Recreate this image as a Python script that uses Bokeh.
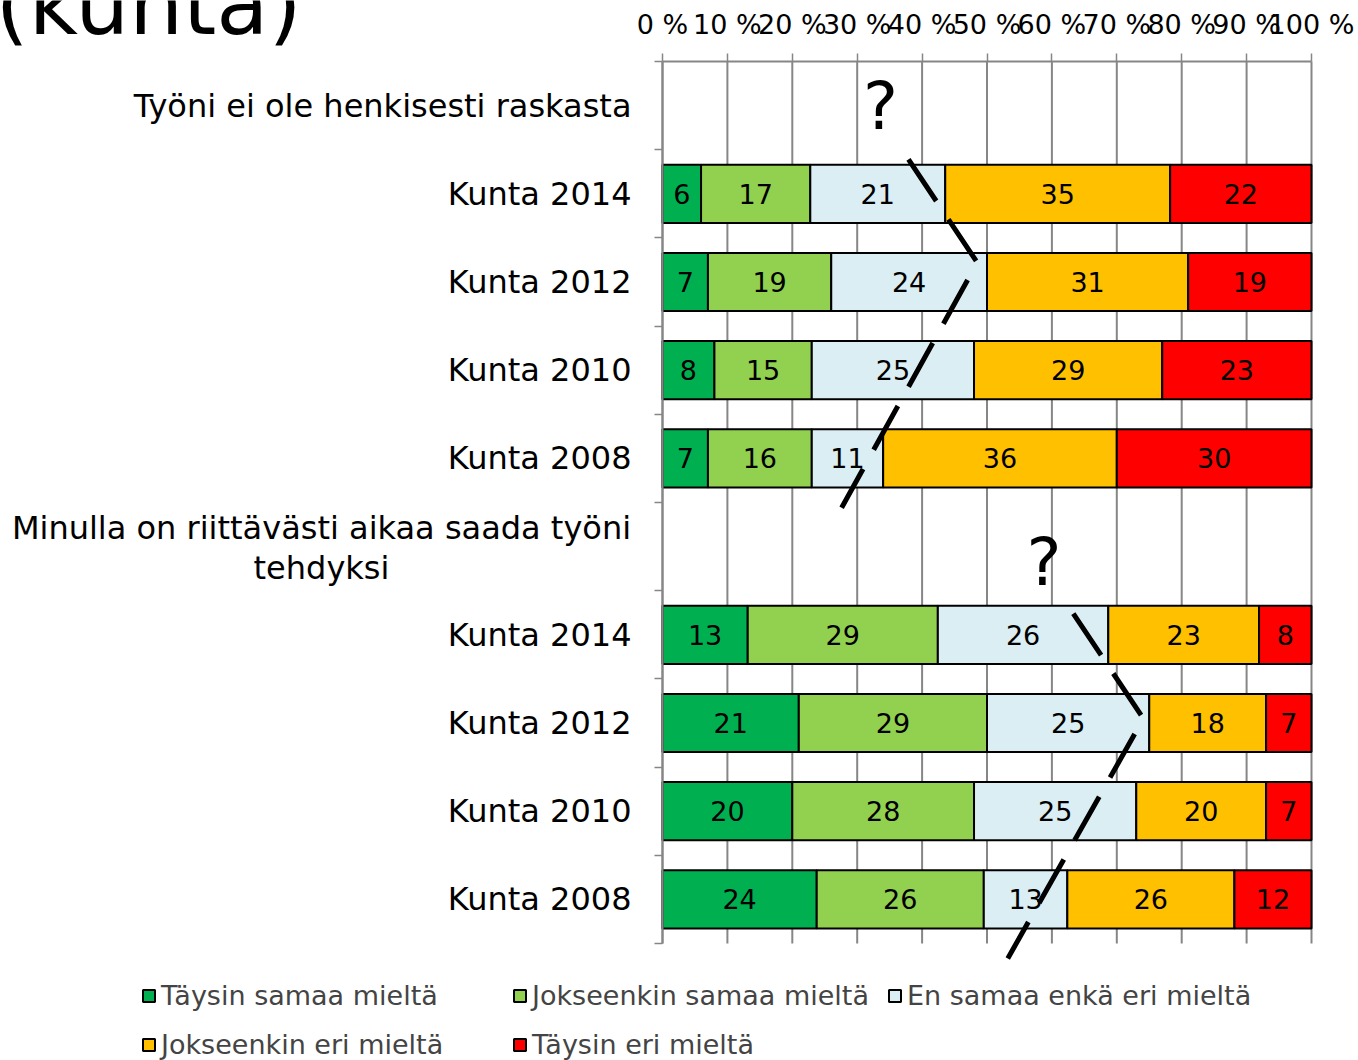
from bokeh.plotting import figure
from bokeh.models import (ColumnDataSource, FixedTicker, Label, Legend, LegendItem, Range1d,
                          LinearAxis)
from bokeh.embed import file_html
from bokeh.resources import INLINE
from bokeh.core.properties import value

# ---------------- data ----------------
group_labels = ["Työni ei ole henkisesti raskasta",
                "Minulla on riittävästi aikaa saada työni tehdyksi"]
years = ["Kunta 2014", "Kunta 2012", "Kunta 2010", "Kunta 2008"]
series = ["Täysin samaa mieltä", "Jokseenkin samaa mieltä", "En samaa enkä eri mieltä",
          "Jokseenkin eri mieltä", "Täysin eri mieltä"]
colors = ["#00B050", "#92D050", "#DAEEF3", "#FFC000", "#FF0000"]

taysin_samaa     = [6, 7, 8, 7, 13, 21, 20, 24]
jokseenkin_samaa = [17, 19, 15, 16, 29, 29, 28, 26]
en_samaa         = [21, 24, 25, 11, 26, 25, 25, 13]
jokseenkin_eri   = [35, 31, 29, 36, 23, 18, 20, 26]
taysin_eri       = [22, 19, 23, 30, 8, 7, 7, 12]

x_ticks = [0, 10, 20, 30, 40, 50, 60, 70, 80, 90, 100]
x_tick_labels = ["0 %", "10 %", "20 %", "30 %", "40 %", "50 %", "60 %", "70 %", "80 %", "90 %", "100 %"]

# hand-drawn annotation marks (percent, row units)
trend1_x = [37.9, 48.5, 27.6]
trend1_y = [8.89, 7.72, 4.94]
trend2_x = [63.3, 74.1, 53.2]
trend2_y = [3.74, 2.55, -0.17]
q_x = [33.6, 58.8]
q_y = [9.49, 4.32]

# ---------------- layout helpers ----------------
W, H = 1358, 1060
FL, FR, FT, FB = 662, 1311, 61, 943          # plot area in page pixels
n_rows = 10
px_x = (FR - FL) / 100.0
px_y = (FB - FT) / float(n_rows)
x_start, x_end = -FL / px_x, (W - FL) / px_x
y_start, y_end = (FB - H) / px_y, FB / px_y

def dx(px):   # page x -> data x
    return (px - FL) / px_x

def dy(py):   # page y -> data y
    return (FB - py) / px_y

row_index = []
for g in range(len(group_labels)):
    for k in range(len(years)):
        row_index.append(g * 5 + 1 + k)
bar_y = [n_rows - 0.5 - i for i in row_index]
header_y = [n_rows - 0.5 - g * 5 for g in range(len(group_labels))]

vals = [taysin_samaa, jokseenkin_samaa, en_samaa, jokseenkin_eri, taysin_eri]
keys = ["s0", "s1", "s2", "s3", "s4"]
totals = [sum(v[i] for v in vals) for i in range(len(bar_y))]
data = {"y": bar_y}
for key, v in zip(keys, vals):
    data[key] = [v[i] * 100.0 / totals[i] for i in range(len(bar_y))]
src = ColumnDataSource(data)

tx, ty, tt = [], [], []
for i in range(len(bar_y)):
    cum = 0.0
    for key, v in zip(keys, vals):
        w = data[key][i]
        tx.append(cum + w / 2)
        ty.append(bar_y[i])
        tt.append(str(v[i]))
        cum += w
lab_src = ColumnDataSource(dict(x=tx, y=ty, t=tt))

FONT = "DejaVu Sans"
GREY = "#868686"

p = figure(width=W, height=H, x_range=Range1d(x_start, x_end), y_range=Range1d(y_start, y_end),
           x_axis_type=None, y_axis_type=None, output_backend="svg", toolbar_location=None,
           min_border=0)
p.outline_line_color = None

# vertical grid lines (at the axis ticks, spanning the plot area)
p.segment(x0=x_ticks, x1=x_ticks, y0=[0] * len(x_ticks), y1=[n_rows] * len(x_ticks),
          line_color=GREY, line_width=2)

renderers = p.hbar_stack(keys, y="y", height=0.66, color=colors, line_color="black",
                         line_width=2, source=src)

p.text(x="x", y="y", text="t", source=lab_src, text_align="center", text_baseline="middle",
       text_font=value(FONT), text_font_size="27px", text_color="black")

# x axis (top)
xa = LinearAxis(fixed_location=n_rows, bounds=(0, 100))
xa.ticker = FixedTicker(ticks=x_ticks)
xa.major_label_overrides = {t: l for t, l in zip(x_ticks, x_tick_labels)}
xa.major_label_text_font = FONT
xa.major_label_text_font_size = "27px"
xa.major_label_text_color = "black"
xa.major_tick_out = 8
xa.major_tick_in = 0
xa.minor_tick_out = 0
xa.minor_tick_in = 0
xa.major_tick_line_color = GREY
xa.major_tick_line_width = 1.5
xa.axis_line_color = GREY
xa.axis_line_width = 2
xa.major_label_standoff = 14
p.add_layout(xa, "above")

# y axis (left)
ya = LinearAxis(fixed_location=0, bounds=(0, n_rows))
centers = [header_y[0]] + bar_y
bounds_t = [float(i) for i in range(n_rows + 1)]
ya.ticker = FixedTicker(ticks=centers, minor_ticks=bounds_t)
overrides = {header_y[0]: group_labels[0]}
for i, yv in enumerate(bar_y):
    overrides[yv] = years[i % len(years)]
ya.major_label_overrides = overrides
ya.major_label_text_font = FONT
ya.major_label_text_font_size = "32px"
ya.major_label_text_color = "black"
ya.major_tick_out = 0
ya.major_tick_in = 0
ya.minor_tick_out = 8
ya.minor_tick_in = 0
ya.minor_tick_line_color = GREY
ya.minor_tick_line_width = 1.5
ya.axis_line_color = GREY
ya.axis_line_width = 2
ya.major_label_standoff = 23
p.add_layout(ya, "left")

# second group label, wrapped on two lines
line1, line2 = group_labels[1].rsplit(" ", 1)
p.text(x=[dx(321), dx(321)], y=[dy(527), dy(567)], text=[line1, line2],
       text_align="center", text_baseline="middle",
       text_font=value(FONT), text_font_size="32px", text_color="black")

# cut-off title fragment
p.add_layout(Label(x=dx(-5), y=dy(4), text="(kunta)", text_align="left", text_baseline="alphabetic",
                   text_font=FONT, text_font_size="85px", text_color="black"))

# annotations
p.line(trend1_x, trend1_y, line_color="black", line_width=5, line_dash="50 22")
p.line(trend2_x, trend2_y, line_color="black", line_width=5, line_dash="50 22")
p.text(x=q_x, y=q_y, text=["?", "?"], text_align="center", text_baseline="alphabetic",
       text_font=value(FONT), text_font_size="66px", text_color="black")

legend = Legend(items=[LegendItem(label=s, renderers=[r]) for s, r in zip(series, renderers)],
                location=(141, 0), orientation="horizontal", ncols=3,
                label_text_font=FONT, label_text_font_size="27px",
                glyph_width=15, glyph_height=15, label_standoff=5, spacing=18,
                padding=0, margin=0, border_line_color=None, background_fill_alpha=0,
                label_width=333, label_height=30)
p.add_layout(legend, "center")

open("out.html", "w").write(file_html(p, INLINE))
